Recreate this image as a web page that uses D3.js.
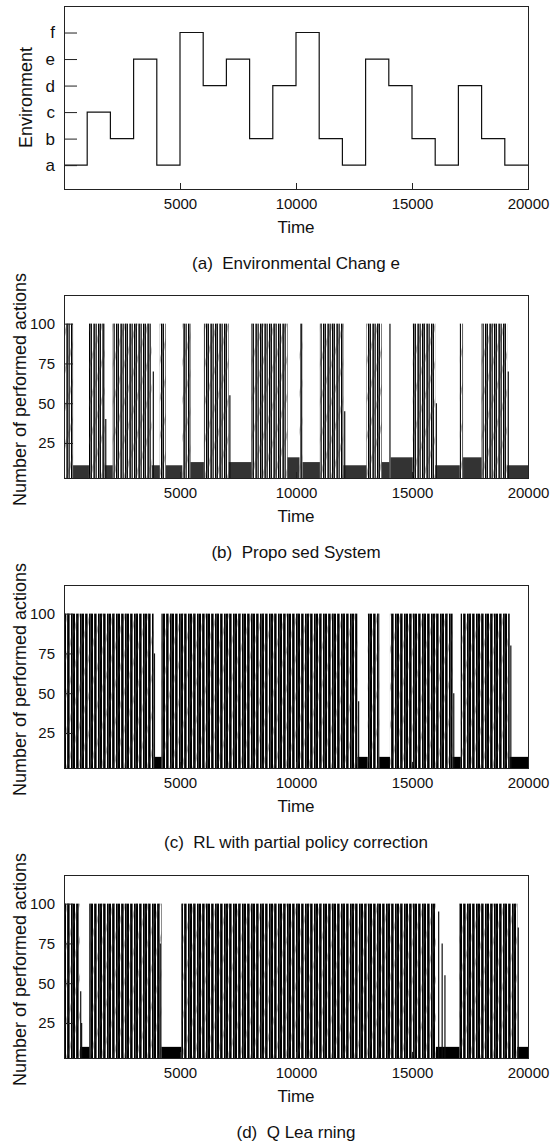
<!DOCTYPE html>
<html>
<head>
<meta charset="utf-8">
<script src="https://cdn.jsdelivr.net/npm/d3@7"></script>
<style>
  body { margin: 0; background: #fff }
  text { font-family: Arial, 'Liberation Sans', sans-serif; fill: #111 }
  .tick text { font-size: 15px }
  .title { font-size: 18px }
  .time { font-size: 17px }
  .caption { font-size: 17px; white-space: pre }
</style>
</head>
<body>
<div class="root"></div>
<script>
const timeTicks = [5000, 10000, 15000, 20000]
const actionTicks = [25, 50, 75, 100]
const envLabels = ['a', 'b', 'c', 'd', 'e', 'f']

// environment switches every 1000 steps
const envChanges = [0, 1000, 2000, 3000, 4000, 5000, 6000, 7000, 8000, 9000, 10000,
                    11000, 12000, 13000, 14000, 15000, 16000, 17000, 18000, 19000, 20000]
const envStates = ['a', 'c', 'b', 'e', 'a', 'f', 'd', 'e', 'b', 'd', 'f',
                   'b', 'a', 'e', 'd', 'b', 'a', 'd', 'b', 'a', 'a']

// bursts = [start, end] of the 0..100 oscillation, settled = [start, end, level], spikes = [time, peak]
const proposedBursts = [[0, 390], [1075, 1760], [2100, 3780], [4130, 4390], [5100, 5450], [6030, 7100],
                        [8080, 9630], [10150, 10280], [11030, 12040], [13040, 13700], [15030, 16000],
                        [17060, 17200], [18000, 19100]]
const proposedSettled = [[390, 1075, 11], [1760, 2100, 11], [3780, 4130, 11], [4390, 5100, 11], [5450, 6030, 13],
                         [7100, 8080, 13], [9630, 10150, 16], [10280, 11030, 13], [12040, 13040, 11],
                         [13700, 14020, 13], [14080, 15030, 16], [16000, 17060, 11], [17200, 18000, 16],
                         [19100, 20000, 11]]
const proposedSpikes = [[14050, 100], [3850, 70], [7150, 55], [12100, 45], [16050, 50], [19150, 70], [1800, 40]]

const partialBursts = [[0, 3870], [4200, 12650], [13090, 13590], [14050, 16750], [17100, 19210]]
const partialSettled = [[3870, 4200, 10], [12650, 13090, 10], [13590, 14050, 10], [16750, 17100, 10], [19210, 20000, 10]]
const partialSpikes = [[3900, 75], [12700, 45], [16800, 50], [19260, 80]]

const qBursts = [[0, 690], [1090, 4200], [5060, 16030], [17040, 19540]]
const qSettled = [[690, 1090, 10], [4200, 5060, 10], [16030, 17040, 10], [19540, 20000, 10]]
const qSpikes = [[720, 45], [760, 25], [4150, 75], [16150, 95], [16300, 75], [16420, 55], [19580, 85]]

const captions = ['(a)  Environmental Chang e', '(b)  Propo sed System',
                  '(c)  RL with partial policy correction', '(d)  Q Lea rning']

const left = 64
    , width = 464
    , height = 183
    , panelTops = [6, 295, 585, 875]

const svg = d3.select('.root')
              .append('svg')
              .attr('width', 556)
              .attr('height', 1142)

const defs = svg.append('defs')

defs.append('clipPath').attr('id', 'plot-clip')
    .append('rect').attr('width', width).attr('height', height)

function stripes (id, colours) {
  const p = defs.append('pattern')
                .attr('id', id)
                .attr('patternUnits', 'userSpaceOnUse')
                .attr('width', colours.length)
                .attr('height', 10)
  p.selectAll('rect')
   .data(colours)
   .enter()
   .append('rect')
   .attr('x', (d, i) => i)
   .attr('width', 1)
   .attr('height', 10)
   .attr('fill', d => d)
}
stripes('dense', ['#000', '#000', '#fff', '#222', '#000', '#666', '#fff', '#000', '#444'])
stripes('light', ['#111', '#fff', '#666', '#222', '#888', '#444', '#fff', '#000', '#777'])

const diag = defs.append('pattern')
                 .attr('id', 'diag')
                 .attr('patternUnits', 'userSpaceOnUse')
                 .attr('width', 11)
                 .attr('height', 10)
                 .attr('patternTransform', 'rotate(17)')
diag.append('rect').attr('width', 2).attr('height', 10).attr('fill', '#333').attr('opacity', 0.35)

const x = d3.scaleLinear().domain([0, 20000]).range([0, width])

function panel (idx) {
  const top = panelTops[idx]
  const g = svg.append('g').attr('transform', `translate(${left}, ${top})`)

  svg.append('text')
     .attr('class', 'caption')
     .attr('x', left + width / 2)
     .attr('y', top + 263)
     .attr('text-anchor', 'middle')
     .text(captions[idx])

  g.append('text')
   .attr('class', 'time')
   .attr('x', width / 2)
   .attr('y', height + 44)
   .attr('text-anchor', 'middle')
   .text('Time')

  return g
}

function finish (g) {
  g.append('rect')
   .attr('width', width)
   .attr('height', height)
   .attr('fill', 'none')
   .attr('stroke', '#222')
   .attr('shape-rendering', 'crispEdges')

  const xAxis = g.append('g')
                 .attr('transform', `translate(0, ${height})`)
                 .call(d3.axisBottom(x).tickValues(timeTicks).tickFormat(d3.format('d'))
                        .tickSize(-6).tickPadding(9))
  xAxis.select('.domain').remove()
  g.selectAll('.tick line').attr('stroke', '#222')
  g.selectAll('.tick text').attr('fill', '#111').attr('font-family', null).attr('font-size', null)
}

// (a) environment
{
  const g = panel(0)
  const y = d3.scaleLinear().domain([0.1, 7]).range([height, 0])
  const steps = envChanges.map((t, i) => ({ t, s: envStates[i] }))
  const line = d3.line()
                 .x(d => x(d.t))
                 .y(d => y(envLabels.indexOf(d.s) + 1))
                 .curve(d3.curveStepAfter)

  g.append('path')
   .datum(steps)
   .attr('d', line)
   .attr('fill', 'none')
   .attr('stroke', '#111')
   .attr('stroke-width', 1.2)

  const yAxis = g.append('g')
                 .call(d3.axisLeft(y).tickValues([1, 2, 3, 4, 5, 6])
                        .tickFormat(v => envLabels[v - 1]).tickSize(-13).tickPadding(9))
  yAxis.select('.domain').remove()
  yAxis.selectAll('.tick text').style('font-size', '17px')

  g.append('text')
   .attr('class', 'title')
   .attr('transform', `translate(${32 - left}, ${height / 2}) rotate(-90)`)
   .attr('text-anchor', 'middle')
   .text('Environment')

  finish(g)
}

// (b)-(d) performed actions
const runs = [
  { bursts: proposedBursts, settled: proposedSettled, spikes: proposedSpikes, fill: 'light', block: '#333' },
  { bursts: partialBursts, settled: partialSettled, spikes: partialSpikes, fill: 'dense', block: '#000' },
  { bursts: qBursts, settled: qSettled, spikes: qSpikes, fill: 'dense', block: '#000' }
]

runs.forEach((run, i) => {
  const g = panel(i + 1)
  const y = d3.scaleLinear().domain([3, 118]).range([height, 0])
  const plot = g.append('g').attr('clip-path', 'url(#plot-clip)')

  plot.selectAll('rect.burst')
      .data(run.bursts)
      .enter()
      .append('rect')
      .attr('class', 'burst')
      .attr('x', d => x(d[0]))
      .attr('width', d => x(d[1]) - x(d[0]))
      .attr('y', y(100))
      .attr('height', height - y(100))
      .attr('fill', `url(#${run.fill})`)

  plot.selectAll('rect.saw')
      .data(run.bursts)
      .enter()
      .append('rect')
      .attr('class', 'saw')
      .attr('x', d => x(d[0]))
      .attr('width', d => x(d[1]) - x(d[0]))
      .attr('y', y(100))
      .attr('height', height - y(100))
      .attr('fill', 'url(#diag)')

  plot.selectAll('rect.settled')
      .data(run.settled)
      .enter()
      .append('rect')
      .attr('class', 'settled')
      .attr('x', d => x(d[0]))
      .attr('width', d => x(d[1]) - x(d[0]))
      .attr('y', d => y(d[2]))
      .attr('height', d => height - y(d[2]))
      .attr('fill', run.block)

  plot.selectAll('line.spike')
      .data(run.spikes)
      .enter()
      .append('line')
      .attr('class', 'spike')
      .attr('x1', d => x(d[0]))
      .attr('x2', d => x(d[0]))
      .attr('y1', d => y(d[1]))
      .attr('y2', height)
      .attr('stroke', '#111')
      .attr('stroke-width', 1.2)

  const yAxis = g.append('g')
                 .call(d3.axisLeft(y).tickValues(actionTicks).tickSize(-9).tickPadding(9))
  yAxis.select('.domain').remove()

  g.append('text')
   .attr('class', 'title')
   .attr('transform', `translate(${26 - left}, ${height / 2 + 3}) rotate(-90)`)
   .attr('text-anchor', 'middle')
   .text('Number of performed actions')

  finish(g)
})
</script>
</body>
</html>
